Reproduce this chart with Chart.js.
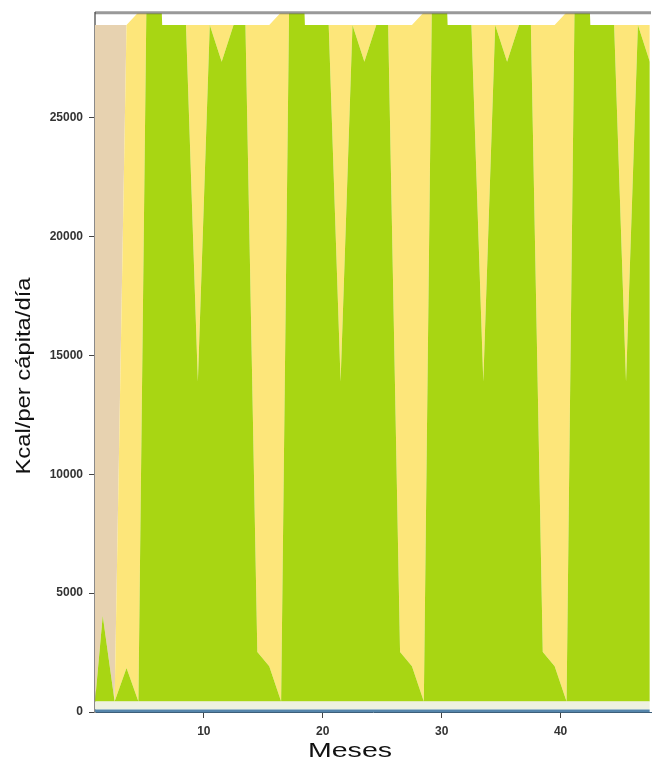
<!DOCTYPE html>
<html>
<head>
<meta charset="utf-8">
<script src="https://cdn.jsdelivr.net/npm/chart.js@4/dist/chart.umd.min.js"></script>
<style>
  html, body { margin: 0; padding: 0; background: #fff; }
  canvas { display: block; }
</style>
</head>
<body>
<canvas id="grafico" width="655" height="763"></canvas>
<script>
/* Kcal per cápita por mes — áreas apiladas */

// ── Datos ─────────────────────────────────────────
const meses = [0.85, 1.5, 2.5, 3.5, 4.5, 5.5, 6.5, 7.5, 8.5, 9.5, 10.5, 11.5,
  12.5, 13.5, 14.5, 15.5, 16.5, 17.5, 18.5, 19.5, 20.5, 21.5, 22.5, 23.5,
  24.5, 25.5, 26.5, 27.5, 28.5, 29.5, 30.5, 31.5, 32.5, 33.5, 34.5, 35.5,
  36.5, 37.5, 38.5, 39.5, 40.5, 41.5, 42.5, 43.5, 44.5, 45.5, 46.5, 47.5];

const serieAzul = [100, 100, 100, 100, 100, 100, 100, 100, 100, 100, 100, 100,
  100, 100, 100, 100, 100, 100, 100, 100, 100, 100, 100, 100,
  100, 100, 100, 100, 100, 100, 100, 100, 100, 100, 100, 100,
  100, 100, 100, 100, 100, 100, 100, 100, 100, 100, 100, 100];

const serieCrema = [340, 340, 340, 340, 340, 340, 340, 340, 340, 340, 340, 340,
  340, 340, 340, 340, 340, 340, 340, 340, 340, 340, 340, 340,
  340, 340, 340, 340, 340, 340, 340, 340, 340, 340, 340, 340,
  340, 340, 340, 340, 340, 340, 340, 340, 340, 340, 340, 340];

const serieVerde = [0, 3610, 0, 1410, 0, 43560, 28460, 28460, 28460, 13450, 28460, 26920,
  28460, 28460, 2080, 1480, 0, 43560, 28460, 28460, 28460, 13450, 28460, 26920,
  28460, 28460, 2080, 1480, 0, 43560, 28460, 28460, 28460, 13450, 28460, 26920,
  28460, 28460, 2080, 1480, 0, 43560, 28460, 28460, 28460, 13450, 28460, 26920];

const serieAmarilla = [0, 0, 0, 27050, 29000, 0, 0, 0, 0, 15010, 0, 1540,
  0, 0, 26380, 26980, 29000, 0, 0, 0, 0, 15010, 0, 1540,
  0, 0, 26380, 26980, 29000, 0, 0, 0, 0, 15010, 0, 1540,
  0, 0, 26380, 26980, 29000, 0, 0, 0, 0, 15010, 0, 1540];

const serieBeige = [28460, 24850, 28460, 0, 0, 0, 0, 0, 0, 0, 0, 0,
  0, 0, 0, 0, 0, 0, 0, 0, 0, 0, 0, 0,
  0, 0, 0, 0, 0, 0, 0, 0, 0, 0, 0, 0,
  0, 0, 0, 0, 0, 0, 0, 0, 0, 0, 0, 0];

const ticksX = [10, 20, 30, 40];
const ticksY = [0, 5000, 10000, 15000, 20000, 25000];

const tituloX = 'Meses';
const tituloY = 'Kcal/per cápita/día';

const puntos = vals => meses.map((m, i) => ({ x: m, y: vals[i] }));

function capa(vals, color, fill) {
  return {
    data: puntos(vals),
    backgroundColor: color,
    borderWidth: 0,
    pointRadius: 0,
    tension: 0,
    fill,
  };
}

// ── Títulos de ejes y borde superior ──────────────
const titulosPlugin = {
  id: 'titulos',
  afterDraw(chart) {
    const { ctx, chartArea: a } = chart;
    ctx.save();

    ctx.strokeStyle = 'rgba(70,70,70,0.55)';
    ctx.lineWidth = 3;
    ctx.beginPath();
    ctx.moveTo(a.left, a.top - 0.5);
    ctx.lineTo(a.right, a.top - 0.5);
    ctx.stroke();

    ctx.fillStyle = '#111';
    ctx.textAlign = 'center';
    ctx.textBaseline = 'alphabetic';

    // Meses
    ctx.font = '21px "Liberation Sans", Arial, sans-serif';
    let w = ctx.measureText(tituloX).width;
    ctx.save();
    ctx.translate(350, 757);
    ctx.scale(84 / w, 1);
    ctx.fillText(tituloX, 0, 0);
    ctx.restore();

    // Kcal/per cápita/día
    ctx.font = '20px "Liberation Sans", Arial, sans-serif';
    w = ctx.measureText(tituloY).width;
    ctx.save();
    ctx.translate(30, 376);
    ctx.rotate(-Math.PI / 2);
    ctx.scale(197 / w, 1);
    ctx.fillText(tituloY, 0, 0);
    ctx.restore();

    ctx.restore();
  },
};

const fuenteTicks = { family: "'Liberation Sans', Arial, sans-serif", size: 12, weight: 'bold' };

new Chart(document.getElementById('grafico').getContext('2d'), {
  type: 'line',
  data: {
    datasets: [
      capa(serieAzul,     '#5585ab', 'origin'),
      capa(serieCrema,    '#eef1e1', '-1'),
      capa(serieVerde,    '#a8d613', '-1'),
      capa(serieAmarilla, '#fde67a', '-1'),
      capa(serieBeige,    '#e7d2b0', '-1'),
    ],
  },
  options: {
    responsive: false,
    animation: false,
    layout: { padding: { top: 10, right: 4, left: 0, bottom: 0 } },
    plugins: {
      legend: { display: false },
      tooltip: { enabled: false },
    },
    scales: {
      x: {
        type: 'linear',
        min: 0.85,
        max: 47.6,
        afterBuildTicks: ax => { ax.ticks = ticksX.map(v => ({ value: v })); },
        afterFit: ax => { ax.height = 51; },
        grid:   { drawOnChartArea: false, drawTicks: true, tickLength: 6, color: '#444' },
        border: { display: true, color: '#3d5f7a', width: 1 },
        ticks:  { color: '#333', font: fuenteTicks, padding: 6, maxRotation: 0, callback: v => String(v) },
      },
      y: {
        stacked: true,
        min: 0,
        max: 29400,
        afterBuildTicks: ax => { ax.ticks = ticksY.map(v => ({ value: v })); },
        afterFit: ax => { ax.width = 95; },
        grid:   { drawOnChartArea: false, drawTicks: true, tickLength: 6, color: '#444' },
        border: { display: true, color: '#8a8a8a', width: 2 },
        ticks:  { color: '#333', font: fuenteTicks, padding: 6, callback: v => String(v) },
      },
    },
  },
  plugins: [titulosPlugin],
});
</script>
</body>
</html>
